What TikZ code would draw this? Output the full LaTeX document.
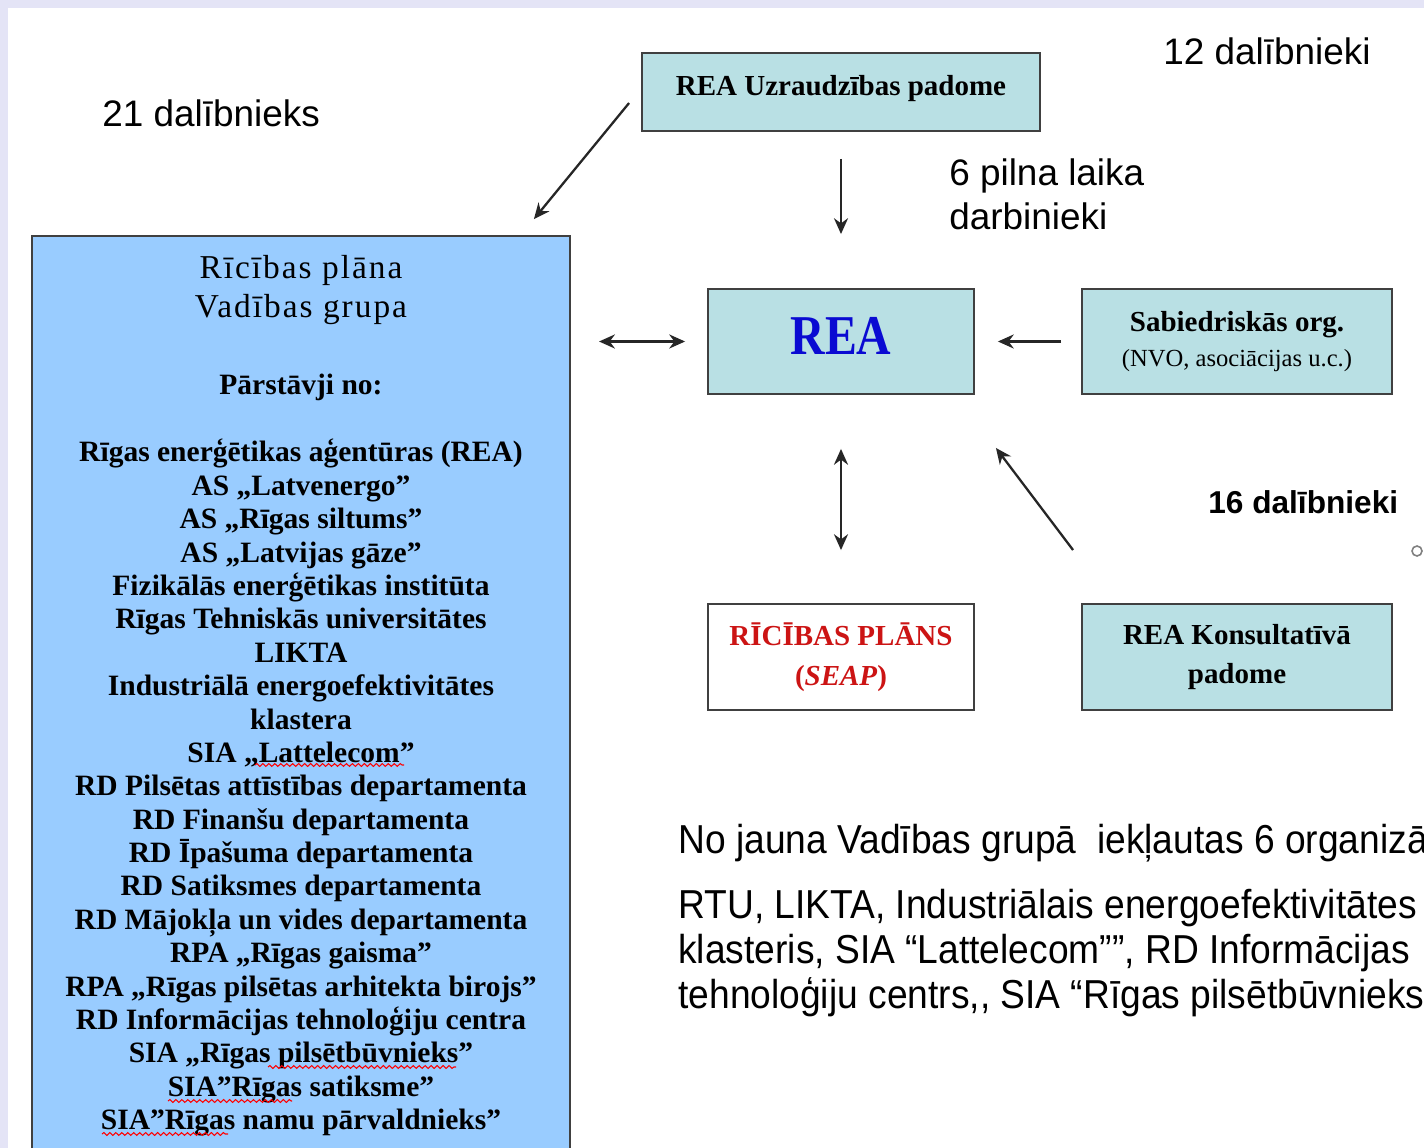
\documentclass[tikz,border=0pt]{standalone}
\usepackage{fontspec}
\setmainfont{Liberation Serif}
\newfontfamily\arialfont{Liberation Sans}
\newfontfamily\narrowfont[FakeStretch=0.92]{Liberation Sans}
\newfontfamily\condserif[FakeStretch=0.85]{Liberation Serif}
\newfontfamily\titlefont[LetterSpace=6]{Liberation Serif}
\usetikzlibrary{arrows.meta,positioning,calc,decorations.pathmorphing}
\definecolor{boxteal}{RGB}{185,224,228}
\definecolor{boxblue}{RGB}{153,204,255}
\definecolor{planred}{RGB}{204,20,20}
\definecolor{reablue}{RGB}{10,10,210}
\definecolor{bgband}{RGB}{228,228,246}

\begin{document}
\begin{tikzpicture}[
    x=0.02cm, y=-0.02cm,
    box/.style={rectangle, draw=black!75, line width=1.1pt, fill=boxteal, align=center,
                inner sep=0pt, font=\bfseries\fontsize{16.5}{22.7}\selectfont},
    arrow/.style={->, >={Stealth[length=9pt,width=8pt]}, line width=1.3pt, color=black!85},
    note/.style={anchor=base west, inner sep=0pt, font=\arialfont\fontsize{21}{25.5}\selectfont},
    spell/.style={draw=red, line width=0.6pt, decorate, decoration={snake, segment length=3.4pt, amplitude=0.8pt}}
]
    % page
    \clip (0,0) rectangle (1424,1148);
    \fill[bgband] (0,0) rectangle (1424,1148);
    \fill[white] (8,8) rectangle (1424,1148);

    % REA Uzraudzibas padome (top)
    \node[box, minimum width=7.96cm, minimum height=1.56cm, text depth=7pt] (uzr) at (841,92) {REA Uzraudzības padome};

    % REA (center)
    \node[box, minimum width=5.32cm, minimum height=2.1cm, text=reablue, text depth=6.8pt,
          font=\condserif\bfseries\fontsize{32}{36}\selectfont] (rea) at (841,341.5) {REA};

    % Sabiedriskas org. (right)
    \node[box, minimum width=6.2cm, minimum height=2.1cm, font=\bfseries\fontsize{16.5}{20.4}\selectfont]
          (sab) at (1237,341.5) {Sabiedriskās org.\\{\mdseries\fontsize{14}{18}\selectfont(NVO, asociācijas u.c.)}};

    % Ricibas plans (bottom)
    \node[box, minimum width=5.32cm, minimum height=2.12cm, fill=white, text=planred] (plan) at (841,657)
          {RĪCĪBAS PLĀNS\\(\textit{SEAP})};

    % Konsultativa padome (bottom right)
    \node[box, minimum width=6.2cm, minimum height=2.12cm] (kons) at (1237,657) {REA Konsultatīvā\\padome};

    % Vadibas grupa (left)
    \node[box, fill=boxblue, minimum width=10.76cm, minimum height=18.6cm] (vg) at (301,701) {};
    \node[anchor=north, inner sep=0pt, align=center, font=\titlefont\fontsize{19}{22.1}\selectfont]
          (vgtitle) at (301,255) {Rīcības plāna\\Vadības grupa};
    \node[anchor=base, inner sep=0pt, font=\bfseries\fontsize{16.8}{19}\selectfont]
          (vgsub) at (301,395) {Pārstāvji no:};
    \node[anchor=north, inner sep=0pt, align=center, font=\bfseries\fontsize{16.8}{19}\selectfont]
          (vglist) at (301,439) {Rīgas enerģētikas aģentūras (REA)\\AS „Latvenergo”\\AS „Rīgas siltums”\\
          AS „Latvijas gāze”\\Fizikālās enerģētikas institūta\\Rīgas Tehniskās universitātes\\LIKTA\\
          Industriālā energoefektivitātes\\klastera\\SIA „Lattelecom”\\RD Pilsētas attīstības departamenta\\
          RD Finanšu departamenta\\RD Īpašuma departamenta\\RD Satiksmes departamenta\\
          RD Mājokļa un vides departamenta\\RPA „Rīgas gaisma”\\RPA „Rīgas pilsētas arhitekta birojs”\\
          RD Informācijas tehnoloģiju centra\\SIA „Rīgas pilsētbūvnieks”\\SIA”Rīgas satiksme”\\
          SIA”Rīgas namu pārvaldnieks”};

    % spell-check marks
    \draw[spell] (255,765) -- (404,765);
    \draw[spell] (268,1067) -- (456,1067);
    \draw[spell] (168,1101) -- (292,1101);
    \draw[spell] (102,1134) -- (228,1134);

    % counts
    \node[note] (n21) at (102,127) {21 dalībnieks};
    \node[note] (n12) at (1163,65) {12 dalībnieki};
    \node[note, align=left, anchor=north west] (n6) at (949,158) {6 pilna laika\\darbinieki};
    \node[note, font=\arialfont\bfseries\fontsize{18}{22}\selectfont] (n16) at (1208,514) {16 dalībnieki};
    \node[circle, draw=gray, line width=0.9pt, minimum size=0.2cm, inner sep=0pt] (ring) at (1417,551) {};

    % new members
    \node[note, font=\narrowfont\fontsize{23}{25.5}\selectfont] (newhead) at (678,853)
          {No jauna Vadības grupā\ \ iekļautas 6 organizā};
    \node[note, anchor=north west, align=left, font=\narrowfont\fontsize{23}{25.5}\selectfont] (newlist) at (678,889)
          {RTU, LIKTA, Industriālais energoefektivitātes\\klasteris, SIA “Lattelecom””, RD Informācijas\\
          tehnoloģiju centrs,, SIA “Rīgas pilsētbūvnieks};

    % arrows
    \draw[arrow] ($(uzr.west)+(-12,11)$) -- ($(vg.north east)+(-37,-16)$);
    \draw[arrow] ($(uzr.south)+(0,27)$) -- ($(rea.north)+(0,-54)$);
    \draw[arrow, <->] ($(rea.west)+(-108,0)$) -- ($(rea.west)+(-22,0)$);
    \draw[arrow] ($(sab.west)+(-20,0)$) -- ($(rea.east)+(23,0)$);
    \draw[arrow, <->] ($(rea.south)+(0,54)$) -- ($(plan.north)+(0,-53)$);
    \draw[arrow] ($(kons.north west)+(-8,-53)$) -- ($(rea.south east)+(21,53)$);
\end{tikzpicture}
\end{document}
